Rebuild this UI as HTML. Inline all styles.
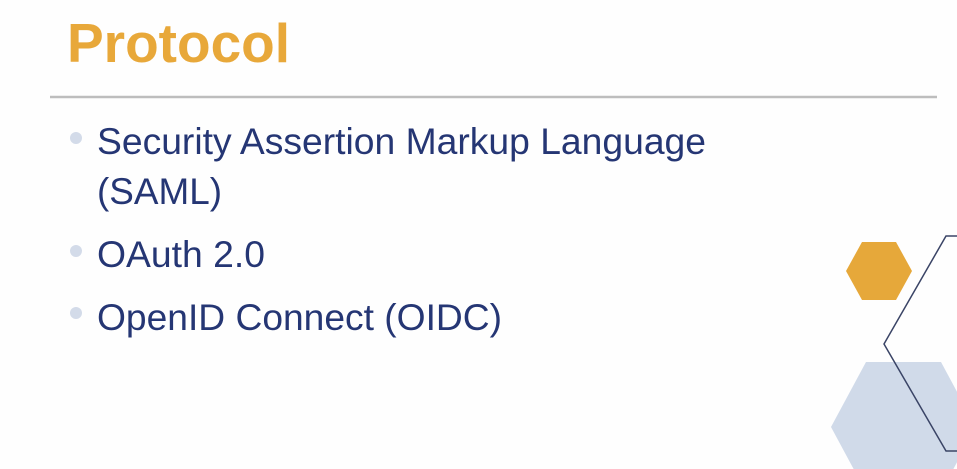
<!DOCTYPE html>
<html><head><meta charset="utf-8"><style>
html,body{margin:0;padding:0;background:#fefefe;}
svg{display:block}
</style></head><body>
<svg width="957" height="469" viewBox="0 0 957 469" xmlns="http://www.w3.org/2000/svg">
<rect width="957" height="469" fill="#fefefe"/>
<text x="67" y="62" font-family="Liberation Sans, sans-serif" font-weight="bold" font-size="55" fill="#E8A83A">Protocol</text>
<line x1="50" y1="97" x2="937" y2="97" stroke="#bdbdbd" stroke-width="2.5"/>
<g font-family="Liberation Sans, sans-serif" font-size="37" fill="#253674">
<text x="97" y="154" textLength="609" lengthAdjust="spacingAndGlyphs">Security Assertion Markup Language</text>
<text x="97" y="204" textLength="125" lengthAdjust="spacingAndGlyphs">(SAML)</text>
<text x="97" y="267" textLength="168" lengthAdjust="spacingAndGlyphs">OAuth 2.0</text>
<text x="97" y="330" textLength="405" lengthAdjust="spacingAndGlyphs">OpenID Connect (OIDC)</text>
</g>
<g fill="#d3dbe9">
<circle cx="76" cy="138" r="6"/>
<circle cx="76" cy="251" r="6"/>
<circle cx="76" cy="313" r="6"/>
</g>
<polygon points="831,427 866,362 941,362 976,427 941,492 866,492" fill="#d0dae9"/>
<polygon points="846,271 862,242 896,242 912,271 896,300 862,300" fill="#E6A83A"/>
<polyline points="960,236 946,236 884,344 946,451 960,451" fill="none" stroke="#3a4466" stroke-width="1.5"/>
</svg>
</body></html>
